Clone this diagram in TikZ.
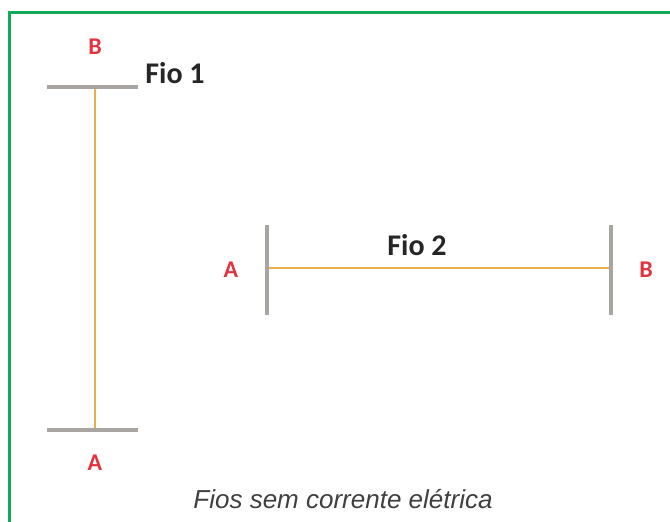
\documentclass[tikz,border=0pt]{standalone}
\usepackage{fontspec}
\setmainfont{Carlito}
\newfontfamily\capfont{Liberation Sans}
\definecolor{frameg}{HTML}{14AA5C}
\definecolor{wire}{HTML}{E8B04C}
\definecolor{barg}{HTML}{A8A5A2}
\definecolor{lblred}{HTML}{E2333F}
\definecolor{capgray}{HTML}{404040}
\begin{document}
\begin{tikzpicture}[x=1pt,y=-1pt,
  bar/.style={draw=barg,line width=4pt},
  wireline/.style={draw=wire,line width=2.2pt},
  endlabel/.style={text=lblred,font=\bfseries\fontsize{24}{24}\selectfont,inner sep=0pt},
  fiolabel/.style={text=black!85,font=\bfseries\fontsize{30}{30}\selectfont,inner sep=0pt},
  pt/.style={inner sep=0pt,minimum size=0pt}]
\useasboundingbox (0,0) rectangle (670,522);
\fill[white] (0,0) rectangle (670,522);
% frame (top and left edges visible)
\draw[frameg,line width=3pt] (9,522) -- (9,12) -- (670,12);
% Fio 1
\coordinate (b1l) at (47,87);
\coordinate (b1r) at (138,87);
\coordinate (a1l) at (47,430);
\coordinate (a1r) at (138,430);
\coordinate (top1) at (95,87);
\coordinate (bot1) at (95,430);
\draw[wireline] (top1) -- (bot1);
\draw[bar] (b1l) -- (b1r);
\draw[bar] (a1l) -- (a1r);
\node[endlabel] (B1) at (95,47) {B};
\node[endlabel] (A1) at (95,463) {A};
\node[fiolabel] (F1) at (175,73) {Fio 1};
% Fio 2
\coordinate (l2t) at (267,225);
\coordinate (l2b) at (267,315);
\coordinate (r2t) at (611,225);
\coordinate (r2b) at (611,315);
\coordinate (left2) at (267,268);
\coordinate (right2) at (611,268);
\draw[wireline] (left2) -- (right2);
\draw[bar] (l2t) -- (l2b);
\draw[bar] (r2t) -- (r2b);
\node[endlabel] (A2) at (231,270) {A};
\node[endlabel] (B2) at (646,270) {B};
\node[fiolabel] (F2) at (417,245) {Fio 2};
% caption
\node[inner sep=0pt,text=capgray,font=\capfont\itshape\fontsize{26}{26}\selectfont] (cap) at (343,499) {Fios sem corrente elétrica};
\end{tikzpicture}
\end{document}
